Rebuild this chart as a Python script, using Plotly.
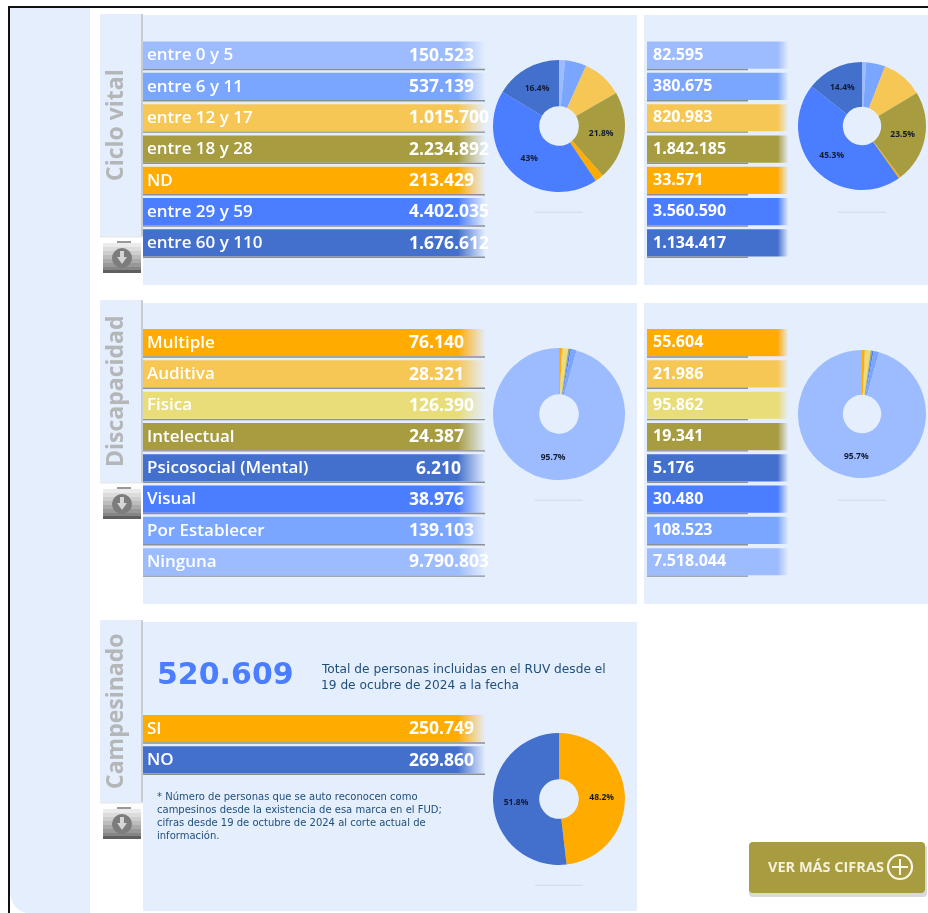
import plotly.graph_objects as go

# ---- data ----
ciclo_labels = ["entre 0 y 5", "entre 6 y 11", "entre 12 y 17", "entre 18 y 28", "ND", "entre 29 y 59", "entre 60 y 110"]
ciclo_total = [150523, 537139, 1015700, 2234892, 213429, 4402035, 1676612]
ciclo_reciente = [82595, 380675, 820983, 1842185, 33571, 3560590, 1134417]
ciclo_colors = ["#9dbcff", "#7aa6ff", "#f7c755", "#a89c40", "#ffab00", "#4a7dff", "#4470cd"]

disc_labels = ["Multiple", "Auditiva", "Fisica", "Intelectual", "Psicosocial (Mental)", "Visual", "Por Establecer", "Ninguna"]
disc_total = [76140, 28321, 126390, 24387, 6210, 38976, 139103, 9790803]
disc_reciente = [55604, 21986, 95862, 19341, 5176, 30480, 108523, 7518044]
disc_colors = ["#ffab00", "#f7c755", "#e8dd78", "#a89c40", "#4470cd", "#4a7dff", "#7aa6ff", "#9dbcff"]

camp_labels = ["SI", "NO"]
camp_total = [250749, 269860]
camp_colors = ["#ffab00", "#4470cd"]

section_titles = ["Ciclo vital", "Discapacidad", "Campesinado"]
camp_headline = 520609
headline_text = ["Total de personas incluidas en el RUV desde el", "19 de ocubre de 2024 a la fecha"]
note_text = ["* Número de personas que se auto reconocen como",
             "campesinos desde la existencia de esa marca en el FUD;",
             "cifras desde 19 de octubre de 2024 al corte actual de",
             "información."]
button_text = "VER MÁS CIFRAS"

# ---- page geometry (pixels) ----
W, H = 928, 913
PANEL = "#e4eefd"
FONT = "Open Sans"
ROW = 31.3


def px(x):
    return x / W


def py(y):
    return 1 - y / H


def dotted(v):
    return f"{v:,}".replace(",", ".")


def pct_labels(values, minimum=12):
    total = sum(values)
    out = []
    for v in values:
        p = 100 * v / total
        out.append(f"{p:.3g}%" if p >= minimum else "")
    return out


fig = go.Figure()
shapes = []
annotations = []


def rect(x0, y0, x1, y1, color, layer="below", opacity=1):
    shapes.append(dict(type="rect", xref="paper", yref="paper", x0=px(x0), x1=px(x1), y0=py(y0), y1=py(y1),
                       fillcolor=color, line_width=0, layer=layer, opacity=opacity))


def rrect(x0, y0, x1, y1, r, color, layer="above", opacity=1):
    path = (f"M {px(x0 + r)} {py(y0)} L {px(x1 - r)} {py(y0)} Q {px(x1)} {py(y0)} {px(x1)} {py(y0 + r)} "
            f"L {px(x1)} {py(y1 - r)} Q {px(x1)} {py(y1)} {px(x1 - r)} {py(y1)} "
            f"L {px(x0 + r)} {py(y1)} Q {px(x0)} {py(y1)} {px(x0)} {py(y1 - r)} "
            f"L {px(x0)} {py(y0 + r)} Q {px(x0)} {py(y0)} {px(x0 + r)} {py(y0)} Z")
    shapes.append(dict(type="path", xref="paper", yref="paper", path=path, fillcolor=color, line_width=0,
                       layer=layer, opacity=opacity))


def text(x, y, s, size=15, color="white", anchor="left", weight=700, angle=0, family=FONT):
    annotations.append(dict(xref="paper", yref="paper", x=px(x - 2 if anchor == "left" else x), y=py(y), text=s,
                            showarrow=False, xanchor=anchor, yanchor="middle", textangle=angle,
                            font=dict(family=family, size=size, color=color, weight=weight)))


# outer frame and left strip
shapes.append(dict(type="path", xref="paper", yref="paper", layer="below", fillcolor=PANEL, line_width=0,
                   path=f"M {px(10)} {py(8)} L {px(90)} {py(8)} L {px(90)} {py(913)} L {px(26)} {py(913)} "
                        f"Q {px(10)} {py(908)} {px(10)} {py(890)} Z"))
rect(8, 6, 928, 8, "#111111")
rect(8, 6, 10, 913, "#111111")

# panels
for x0, y0, x1, y1 in [(143, 15, 637, 285), (644, 15, 928, 285), (143, 303, 637, 604), (644, 303, 928, 604), (143, 622, 637, 911)]:
    rect(x0, y0, x1, y1, PANEL)

# side tabs and download icons
for title, y0, y1, yc in zip(section_titles, [14, 300, 620], [236, 482, 802], [125, 391, 711]):
    rect(100, y0, 141, y1, PANEL)
    rect(141, y0, 143, y1, "#c9ccd2")
    rect(100, y1, 143, y1 + 1.5, "#e6e7ea")
    text(114, yc, title, size=23, color="#b4b6b8", anchor="center", angle=-90)
    top = y1 + 7
    # folder-like icon
    rect(117, top - 2, 131, top + 2, "#9a9a9a")
    steps = ["#ebebeb", "#dcdcdc", "#cdcdcd", "#bcbcbc", "#aaaaaa", "#989898", "#858585"]
    for i, c in enumerate(steps):
        rect(103, top + i * 4, 141, top + (i + 1) * 4, c)
    rect(103, top + 27, 141, top + 30, "#5f5f5f")
    shapes.append(dict(type="circle", xref="paper", yref="paper", x0=px(112), x1=px(132), y0=py(top + 5), y1=py(top + 25),
                       fillcolor="#7c7c7c", line_width=0, layer="below"))
    shapes.append(dict(type="path", xref="paper", yref="paper", layer="below", fillcolor="#d5d5d5", line_width=0,
                       path=f"M {px(120)} {py(top + 8)} L {px(124)} {py(top + 8)} L {px(124)} {py(top + 14)} L {px(127)} {py(top + 14)} "
                            f"L {px(122)} {py(top + 21)} L {px(117)} {py(top + 14)} L {px(120)} {py(top + 14)} Z"))

# bar blocks: (labels, values, colours, x0, x1, top, value x, show labels, underline end, fade start, font size)
blocks = [
    (ciclo_labels, ciclo_total, ciclo_colors, 143, 485, 39.5, 409, True, 485, 458, 17.5),
    (ciclo_labels, ciclo_reciente, ciclo_colors, 647, 788, 39.5, 653, False, 748, 778, 16),
    (disc_labels, disc_total, disc_colors, 143, 485, 327, 409, True, 485, 458, 17.5),
    (disc_labels, disc_reciente, disc_colors, 647, 788, 327, 653, False, 748, 778, 16),
    (camp_labels, camp_total, camp_colors, 143, 485, 713, 409, True, 485, 458, 17.5),
]

for i, (labels, values, colors, x0, x1, top, vx, show, line_end, fade, fsize) in enumerate(blocks, start=1):
    n = len(labels)
    bottom = top + n * ROW
    xname = "x" if i == 1 else f"x{i}"
    yname = "y" if i == 1 else f"y{i}"
    layout_suffix = "" if i == 1 else str(i)
    fig.add_trace(go.Bar(y=labels, x=[1] * n, orientation="h", xaxis=xname, yaxis=yname,
                         marker=dict(color=colors, line_width=0), hoverinfo="skip", showlegend=False))
    fig.update_layout({
        f"xaxis{layout_suffix}": dict(domain=[px(x0), px(x1)], range=[0, 1], visible=False, fixedrange=True, anchor=yname),
        f"yaxis{layout_suffix}": dict(domain=[py(bottom), py(top)], autorange="reversed", visible=False, fixedrange=True,
                                      anchor=xname, type="category"),
    })
    # soft right end of the bars
    steps = x1 + 1 - fade
    for s in range(steps):
        rect(fade + s, top, fade + s + 1, bottom, PANEL, layer="above", opacity=(s + 1) / steps)
    for r in range(n):
        yc = top + (r + 0.5) * ROW - 1.3
        ly = top + (r + 1) * ROW - 1.3
        rect(x0, ly - 0.7, line_end, ly + 0.7, "#8c8f94", layer="above")
        if show:
            text(147, yc, labels[r], size=17, weight=600)
        s = dotted(values[r])
        text(vx + (7 if len(s) == 5 and s.startswith("6.") else 0), yc, s, size=fsize, weight=700)


def pie(values, colors, cx, cy, r):
    fig.add_trace(go.Pie(values=values, marker=dict(colors=colors, line_width=0), sort=False, direction="clockwise",
                         rotation=0, hole=0.3, text=pct_labels(values), textinfo="text", textposition="inside",
                         insidetextorientation="horizontal", textfont=dict(family=FONT, size=8.5, color="#111a33", weight=700),
                         domain=dict(x=[px(cx - r), px(cx + r)], y=[py(cy + r), py(cy - r)]),
                         showlegend=False, hoverinfo="skip"))
    shapes.append(dict(type="rect", xref="paper", yref="paper", x0=px(cx - 24), x1=px(cx + 24), y0=py(cy + 87), y1=py(cy + 85.5),
                       fillcolor="#d8dfea", line_width=0, layer="below"))


pie(ciclo_total, ciclo_colors, 559, 126, 66)
pie(ciclo_reciente, ciclo_colors, 862, 126, 64)
pie(disc_total, disc_colors, 559, 414, 66)
pie(disc_reciente, disc_colors, 862, 414, 64)
pie(camp_total, camp_colors, 559, 799, 66)

# Campesinado texts
text(157, 673, dotted(camp_headline), size=30, color="#4a7dff", family="DejaVu Sans")
for y, s in zip([669, 685], headline_text):
    text(321, y, s, size=12.2, color="#1f4f78", weight=400, family="DejaVu Sans")
for y, s in zip([796, 809, 822, 835], note_text):
    text(157, y, s, size=10, color="#1f4f78", weight=400, family="DejaVu Sans")

# button
rrect(749, 845, 927, 897, 4, "#b9b9b9", opacity=0.55)
rrect(749, 842, 925, 893, 4, "#a89c40")
text(768, 866, button_text, size=14.5, color="#f4f1dc")
shapes.append(dict(type="circle", xref="paper", yref="paper", x0=px(888), x1=px(912), y0=py(879), y1=py(855),
                   fillcolor="rgba(0,0,0,0)", line=dict(color="#f8f6e6", width=2.2), layer="above"))
rect(892, 866, 908, 868, "#f8f6e6", layer="above")
rect(899, 859, 901, 875, "#f8f6e6", layer="above")

fig.update_layout(width=W, height=H, margin=dict(l=0, r=0, t=0, b=0, pad=0), paper_bgcolor="white", plot_bgcolor="rgba(0,0,0,0)",
                  bargap=0.13, shapes=shapes, annotations=annotations, showlegend=False)
fig.write_html("out.html", config=dict(displayModeBar=False),
               post_script="document.body.style.margin='0';document.documentElement.style.overflow='hidden';"
                           "document.querySelector('.plot-container').style.filter='blur(0.5px)';")
